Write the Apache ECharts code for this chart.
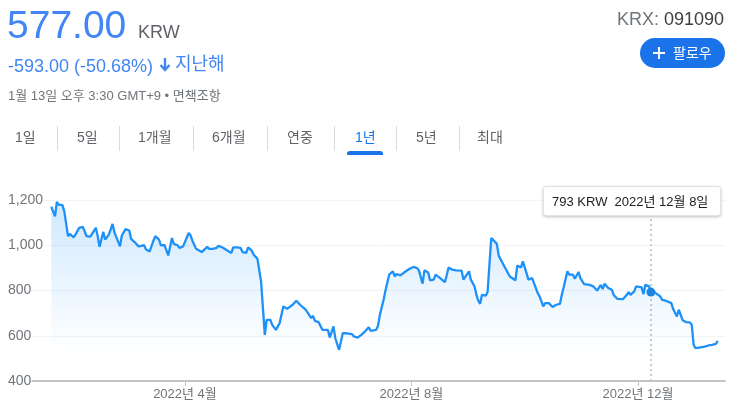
<!DOCTYPE html>
<html><head><meta charset="utf-8">
<script src="https://cdn.jsdelivr.net/npm/echarts@6/dist/echarts.min.js"></script>
<style>
html,body{margin:0;padding:0;}
body{width:756px;height:404px;overflow:hidden;background:#fff;font-family:Arial,"Liberation Sans","Noto Sans CJK KR",sans-serif;position:relative;}
#chart{position:absolute;left:0;top:0;width:756px;height:404px;}
.a{position:absolute;white-space:nowrap;line-height:1;z-index:2;}
.tab{position:absolute;top:130px;font-size:14px;line-height:14px;color:#5f6368;white-space:nowrap;z-index:2;}
.sep{position:absolute;top:126px;width:1px;height:25px;background:#dadce0;z-index:2;}
</style></head><body>
<div id="chart"></div>

<div class="a" style="left:7px;top:5px;font-size:39px;color:#4285f4;">577.00</div>
<div class="a" style="left:138px;top:23px;font-size:18px;color:#5f6368;">KRW</div>
<div class="a" style="left:8px;top:57px;font-size:18px;color:#4285f4;">-593.00 (-50.68%)</div>
<svg class="a" style="left:159px;top:57px;" width="12" height="15" viewBox="0 0 12 15"><path d="M6 1 V12 M1.5 8 L6 13 L10.5 8" stroke="#4285f4" stroke-width="2.4" fill="none"/></svg>
<div class="a" style="left:175px;top:55px;font-size:18px;color:#4285f4;">지난해</div>
<div class="a" style="left:8px;top:89px;font-size:13px;color:#70757a;">1월 13일 오후 3:30 GMT+9 • 면책조항</div>

<div class="a" style="right:32px;top:10px;font-size:18px;"><span style="color:#70757a">KRX:</span> <span style="color:#3c4043">091090</span></div>
<div class="a" style="left:640px;top:38px;width:85px;height:30px;border-radius:15px;background:#1a73e8;">
  <svg style="position:absolute;left:13px;top:9px;" width="12" height="12" viewBox="0 0 12 12"><path d="M6 0 V12 M0 6 H12" stroke="#fff" stroke-width="2"/></svg>
  <div style="position:absolute;left:33px;top:8px;font-size:14px;line-height:14px;color:#fff;">팔로우</div>
</div>

<div class="tab" style="left:15px;">1일</div>
<div class="sep" style="left:57px;"></div>
<div class="tab" style="left:77px;">5일</div>
<div class="sep" style="left:119px;"></div>
<div class="tab" style="left:138px;">1개월</div>
<div class="sep" style="left:193px;"></div>
<div class="tab" style="left:212px;">6개월</div>
<div class="sep" style="left:267px;"></div>
<div class="tab" style="left:287px;">연중</div>
<div class="sep" style="left:334px;"></div>
<div class="tab" style="left:355px;color:#1a73e8;">1년</div>
<div class="sep" style="left:396px;"></div>
<div class="tab" style="left:416px;">5년</div>
<div class="sep" style="left:459px;"></div>
<div class="tab" style="left:477px;">최대</div>
<div class="a" style="left:347px;top:151px;width:36px;height:4px;background:#1a73e8;border-radius:3px 3px 0 0;"></div>

<script>
const dates = [
'2022-01-19','2022-01-21','2022-01-22','2022-01-23','2022-01-25','2022-01-26','2022-01-28','2022-01-29','2022-01-31',
'2022-02-01','2022-02-03','2022-02-05','2022-02-06','2022-02-07','2022-02-09','2022-02-10','2022-02-12','2022-02-13','2022-02-14','2022-02-16','2022-02-17','2022-02-19','2022-02-21','2022-02-22','2022-02-23','2022-02-25','2022-02-26','2022-02-28',
'2022-03-02','2022-03-03','2022-03-05','2022-03-07','2022-03-08','2022-03-10','2022-03-11','2022-03-13','2022-03-14','2022-03-15','2022-03-16','2022-03-18','2022-03-19','2022-03-21','2022-03-22','2022-03-23','2022-03-25','2022-03-26','2022-03-28','2022-03-29','2022-03-31',
'2022-04-01','2022-04-03','2022-04-04','2022-04-05','2022-04-07','2022-04-08','2022-04-10','2022-04-11','2022-04-13','2022-04-14','2022-04-16','2022-04-18','2022-04-19','2022-04-21','2022-04-22','2022-04-24','2022-04-26','2022-04-27','2022-04-29',
'2022-05-01','2022-05-02','2022-05-04','2022-05-05','2022-05-07','2022-05-08','2022-05-10','2022-05-11','2022-05-12','2022-05-13','2022-05-14','2022-05-15','2022-05-17','2022-05-18','2022-05-20','2022-05-21','2022-05-22','2022-05-24','2022-05-26','2022-05-27','2022-05-29','2022-05-31',
'2022-06-02','2022-06-03','2022-06-05','2022-06-06','2022-06-08','2022-06-09','2022-06-10','2022-06-12','2022-06-14','2022-06-15','2022-06-17','2022-06-18','2022-06-20','2022-06-21','2022-06-23','2022-06-24','2022-06-25','2022-06-27','2022-06-28','2022-06-30',
'2022-07-01','2022-07-03','2022-07-04','2022-07-05','2022-07-07','2022-07-09','2022-07-10','2022-07-11','2022-07-13','2022-07-14','2022-07-15','2022-07-17','2022-07-18','2022-07-19','2022-07-20','2022-07-22','2022-07-23','2022-07-24','2022-07-26','2022-07-27','2022-07-29','2022-07-31',
'2022-08-02','2022-08-04','2022-08-05','2022-08-07','2022-08-08','2022-08-10','2022-08-11','2022-08-13','2022-08-14','2022-08-16','2022-08-17','2022-08-19','2022-08-20','2022-08-21','2022-08-23','2022-08-25','2022-08-26','2022-08-28','2022-08-29','2022-08-30',
'2022-09-01','2022-09-02','2022-09-04','2022-09-05','2022-09-06','2022-09-07','2022-09-08','2022-09-10','2022-09-11','2022-09-12','2022-09-13','2022-09-14','2022-09-16','2022-09-17','2022-09-18','2022-09-20','2022-09-21','2022-09-23','2022-09-24','2022-09-26','2022-09-27','2022-09-29','2022-09-30',
'2022-10-02','2022-10-03','2022-10-05','2022-10-06','2022-10-08','2022-10-09','2022-10-11','2022-10-12','2022-10-14','2022-10-15','2022-10-16','2022-10-18','2022-10-20','2022-10-21','2022-10-22','2022-10-24','2022-10-25','2022-10-27','2022-10-28','2022-10-30','2022-10-31',
'2022-11-02','2022-11-03','2022-11-05','2022-11-07','2022-11-09','2022-11-11','2022-11-12','2022-11-13','2022-11-15','2022-11-17','2022-11-18','2022-11-20','2022-11-21','2022-11-23','2022-11-25','2022-11-26','2022-11-27','2022-11-29','2022-11-30',
'2022-12-01','2022-12-03','2022-12-04','2022-12-05','2022-12-07','2022-12-08','2022-12-10','2022-12-11','2022-12-13','2022-12-14','2022-12-16','2022-12-17','2022-12-19','2022-12-20','2022-12-22','2022-12-23','2022-12-24','2022-12-25','2022-12-27','2022-12-29','2022-12-30','2022-12-31',
'2023-01-01','2023-01-03','2023-01-04','2023-01-06','2023-01-08','2023-01-10','2023-01-11','2023-01-12','2023-01-13'
];
const prices = [
1170,1128,1192,1180,1177,1150,1040,1050,1035,
1047,1077,1081,1080,1040,1038,1035,1077,1040,993,1059,1025,1047,1094,1057,1054,995,1043,1071,
1065,1028,1013,995,995,1000,981,973,973,1020,1040,1025,1000,1000,993,955,1032,1006,1000,988,995,
1000,1054,1044,1020,984,984,970,966,993,984,984,988,998,991,988,976,966,991,991,
988,970,966,991,976,958,941,939,840,722,604,670,670,648,626,633,656,730,719,722,737,755,
737,730,715,712,678,688,666,660,626,631,626,592,641,589,538,574,611,611,619,607,
597,592,586,604,619,638,622,619,626,644,693,759,800,803,870,885,862,873,867,874,885,896,
904,899,889,830,889,880,845,848,870,858,858,837,867,902,892,889,882,888,848,848,
885,848,818,781,755,741,781,777,793,914,1032,1037,1006,954,951,907,899,862,870,845,910,902,929,
877,848,855,833,789,774,730,744,744,744,727,737,741,781,814,885,870,870,852,882,855,
828,828,825,818,800,825,806,830,811,803,779,763,756,762,781,792,781,796,818,
822,814,784,825,818,793,792,793,774,759,755,755,744,718,685,715,693,670,660,659,648,560,
545,548,549,552,557,560,560,564,577
];
const xTickDates = ['2022-04-01','2022-08-01','2022-12-01'];
const yMin = 400, yMax = 1200, yStep = 200;
const currency = 'KRW';
const tooltipDate = '2022-12-08';

const DAY = 86400000;
function toTs(s){ const p = s.split('-').map(Number); return new Date(p[0], p[1]-1, p[2]).getTime(); }
function fmtMonth(v){ const d = new Date(v); return d.getFullYear() + '년 ' + (d.getMonth()+1) + '월'; }
function fmtDay(v){ const d = new Date(v); return d.getFullYear() + '년 ' + (d.getMonth()+1) + '월 ' + d.getDate() + '일'; }

const xMin = toTs('2022-04-01') - 82.4 * DAY;
const xMax = xMin + 373.3 * DAY;
const tickVals = xTickDates.map(toTs);
const seriesData = dates.map((d, i) => [toTs(d), prices[i]]);

const LINE = '#1c84e3';
const FONT = 'Arial, "Liberation Sans", "Noto Sans CJK KR", sans-serif';
const chart = echarts.init(document.getElementById('chart'), null, {renderer: 'canvas'});
chart.setOption({
  animation: false,
  grid: {left: 32, right: 31, top: 200, bottom: 23, containLabel: false},
  tooltip: {
    trigger: 'axis',
    alwaysShowContent: true,
    position: [543, 186],
    transitionDuration: 0,
    backgroundColor: '#fff',
    borderColor: '#e3e3e3',
    borderWidth: 1,
    padding: [7, 8],
    textStyle: {color: '#202124', fontSize: 13, fontFamily: FONT},
    extraCssText: 'box-sizing:border-box;width:178px;height:30px;line-height:15px;border-radius:3px;box-shadow:0 1px 3px rgba(0,0,0,0.25);white-space:nowrap;',
    axisPointer: {type: 'line', animation: false, z: 1, lineStyle: {color: '#c8cbcf', type: [2, 3], width: 2}},
    formatter: function (params) {
      const p = params[0];
      return p.value[1] + ' ' + currency + '&nbsp;&nbsp;' + fmtDay(p.value[0]);
    }
  },
  xAxis: {
    type: 'value',
    min: xMin, max: xMax,
    axisLine: {show: true, lineStyle: {color: '#c4c4c4', width: 2}},
    axisTick: {show: true, customValues: tickVals, length: 5, lineStyle: {color: '#c4c4c4', width: 1}},
    axisLabel: {customValues: tickVals, formatter: fmtMonth, color: '#70757a', fontSize: 13, fontFamily: FONT, margin: 7},
    splitLine: {show: false}
  },
  yAxis: {
    type: 'value',
    min: yMin, max: yMax, interval: yStep,
    axisLine: {show: false},
    axisTick: {show: false},
    axisLabel: {
      formatter: v => v.toLocaleString('en-US'),
      align: 'left', margin: 24, color: '#70757a', fontSize: 14, fontFamily: FONT,
      backgroundColor: '#fff'
    },
    splitLine: {lineStyle: {color: '#f1f3f4', width: 1}}
  },
  series: [{
    type: 'line',
    data: seriesData,
    showSymbol: false,
    symbol: 'circle',
    symbolSize: 9,
    lineStyle: {color: LINE, width: 2.3},
    itemStyle: {color: LINE, borderColor: LINE, borderWidth: 0},
    areaStyle: {
      color: new echarts.graphic.LinearGradient(0, 0, 0, 1, [
        {offset: 0, color: 'rgba(30,136,229,0.30)'},
        {offset: 0.85, color: 'rgba(30,136,229,0.0)'},
        {offset: 1, color: 'rgba(30,136,229,0.0)'}
      ])
    },
    emphasis: {scale: false, lineStyle: {width: 2.3}, itemStyle: {color: LINE, borderColor: LINE, borderWidth: 0}},
    z: 3
  }]
});
chart.dispatchAction({type: 'showTip', seriesIndex: 0, dataIndex: dates.indexOf(tooltipDate)});
</script>
</body></html>
